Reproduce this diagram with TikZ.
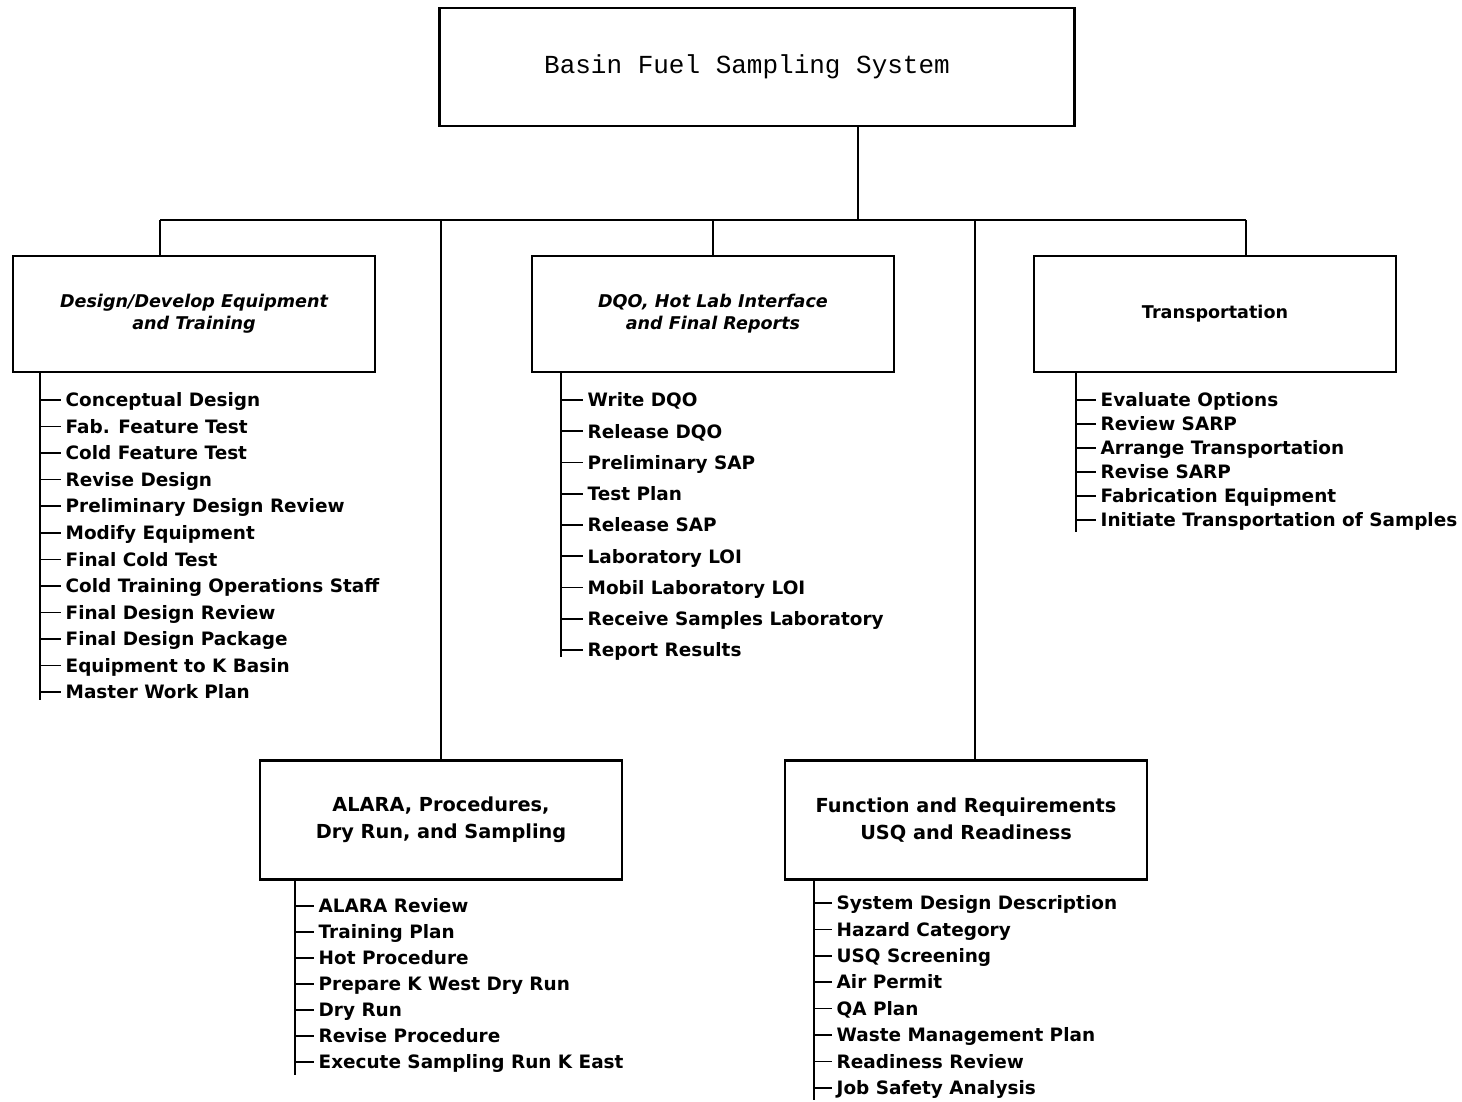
\documentclass[tikz,border=0pt]{standalone}
\usepackage{fontspec}
\setsansfont{DejaVu Sans}
\newfontfamily\monofont{Liberation Mono}
\usepackage{tikz}
\usetikzlibrary{positioning}

\begin{document}
\begin{tikzpicture}[
      x=0.02cm, y=-0.02cm,
      line width=1.3pt,
      top_box/.style={
         draw=black,
         line width=1.3pt,
         minimum width=12.7cm,
         minimum height=2.36cm,
         font=\monofont\fontsize{14.8}{17}\selectfont},
      wbs_box/.style={
         draw=black,
         line width=1.3pt,
         minimum width=7.24cm,
         minimum height=2.32cm,
         align=center,
         font=\sffamily\bfseries\fontsize{10}{12.5}\selectfont},
      wbs_box_it/.style={
         wbs_box,
         font=\sffamily\bfseries\itshape\fontsize{10}{12.5}\selectfont},
      wbs_box_low/.style={
         wbs_box,
         minimum height=2.38cm,
         font=\sffamily\bfseries\fontsize{11}{15.3}\selectfont},
      task_item/.style={
         anchor=west,
         inner xsep=2pt,
         inner ysep=0pt,
         text height=7.7pt,
         text depth=0pt,
         font=\sffamily\bfseries\fontsize{10.5}{12}\selectfont},
      task_tick/.style={
         line width=0.9pt},
      ]
      % main box
      \node[top_box] (bfss) at (757,67) {\hspace*{-0.4cm}\raisebox{-0.08cm}{Basin Fuel Sampling System}};

      % second level
      \node[wbs_box_it] (design) at (194,314) {Design/Develop Equipment\\and Training};
      \node[wbs_box_it] (dqo) at (713,314) {DQO, Hot Lab Interface\\and Final Reports};
      \node[wbs_box] (transp) at (1215,314) {Transportation};
      \node[wbs_box_low] (alara) at (441,820) {ALARA, Procedures,\\Dry Run, and Sampling};
      \node[wbs_box_low] (func) at (966,820) {Function and Requirements\\USQ and Readiness};

      % bus
      \coordinate (bus_top) at (858,220);
      \draw (bfss.south -| bus_top) -- (bus_top);
      \foreach \x/\b in {160/design, 441/alara, 713/dqo, 975/func, 1246/transp} {
        \coordinate (bus_\b) at (\x,220);
        \draw (bus_\b) -- (bus_\b |- \b.north);
      }
      \draw (bus_design) -- (bus_transp);

      % task lists
      \coordinate (design_end) at (40,700);
      \draw (design.south -| design_end) -- (design_end);
      \foreach \n/\txt in {% number/text
        1/Conceptual Design,
        2/Fab. Feature Test,
        3/Cold Feature Test,
        4/Revise Design,
        5/Preliminary Design Review,
        6/Modify Equipment,
        7/Final Cold Test,
        8/Cold Training Operations Staff,
        9/Final Design Review,
        10/Final Design Package,
        11/Equipment to K Basin,
        12/Master Work Plan} {
        \node[task_item] (design_\n) at (61,{400+(\n-1)*26.55}) {\txt};
        \draw[task_tick] (design_end |- design_\n.west) -- (design_\n.west);
      }

      \coordinate (dqo_end) at (561,657);
      \draw (dqo.south -| dqo_end) -- (dqo_end);
      \foreach \n/\txt in {% number/text
        1/Write DQO,
        2/Release DQO,
        3/Preliminary SAP,
        4/Test Plan,
        5/Release SAP,
        6/Laboratory LOI,
        7/Mobil Laboratory LOI,
        8/Receive Samples Laboratory,
        9/Report Results} {
        \node[task_item] (dqo_\n) at (583,{400+(\n-1)*31.25}) {\txt};
        \draw[task_tick] (dqo_end |- dqo_\n.west) -- (dqo_\n.west);
      }

      \coordinate (transp_end) at (1076,532);
      \draw (transp.south -| transp_end) -- (transp_end);
      \foreach \n/\txt in {% number/text
        1/Evaluate Options,
        2/Review SARP,
        3/Arrange Transportation,
        4/Revise SARP,
        5/Fabrication Equipment,
        6/Initiate Transportation of Samples} {
        \node[task_item] (transp_\n) at (1096,{400+(\n-1)*24}) {\txt};
        \draw[task_tick] (transp_end |- transp_\n.west) -- (transp_\n.west);
      }

      \coordinate (alara_end) at (295,1075);
      \draw (alara.south -| alara_end) -- (alara_end);
      \foreach \n/\txt in {% number/text
        1/ALARA Review,
        2/Training Plan,
        3/Hot Procedure,
        4/Prepare K West Dry Run,
        5/Dry Run,
        6/Revise Procedure,
        7/Execute Sampling Run K East} {
        \node[task_item] (alara_\n) at (314,{906+(\n-1)*26}) {\txt};
        \draw[task_tick] (alara_end |- alara_\n.west) -- (alara_\n.west);
      }

      \coordinate (func_end) at (814,1100);
      \draw (func.south -| func_end) -- (func_end);
      \foreach \n/\txt in {% number/text
        1/System Design Description,
        2/Hazard Category,
        3/USQ Screening,
        4/Air Permit,
        5/QA Plan,
        6/Waste Management Plan,
        7/Readiness Review,
        8/Job Safety Analysis} {
        \node[task_item] (func_\n) at (832,{903+(\n-1)*26.4}) {\txt};
        \draw[task_tick] (func_end |- func_\n.west) -- (func_\n.west);
      }

      \useasboundingbox (0,0) rectangle (1462,1100);
    \end{tikzpicture}
\end{document}
